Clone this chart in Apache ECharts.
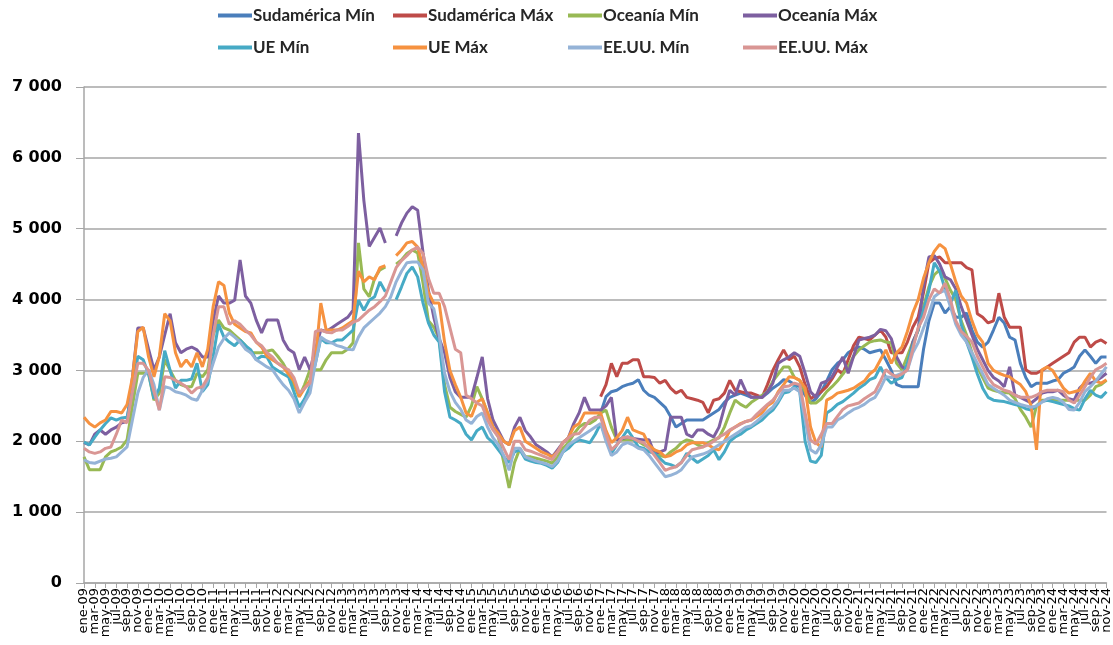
<!DOCTYPE html>
<html>
<head>
<meta charset="utf-8">
<script src="https://cdn.jsdelivr.net/npm/echarts@6/dist/echarts.min.js"></script>
<style>
html,body{margin:0;padding:0;background:#fff;}
#chart{width:1113px;height:645px;}
</style>
</head>
<body>
<div id="chart"></div>
<script>
// ---- tick labels ----
const MONTHS = ['ene','feb','mar','abr','may','jun','jul','ago','sep','oct','nov','dic'];
const YEARS = ['09','10','11','12','13','14','15','16','17','18','19','20','21','22','23','24'];
const LAST_LABEL = 'nov-24';

// ---- series names ----
const NAMES = ['Sudamérica Mín','Sudamérica Máx','Oceanía Mín','Oceanía Máx','UE Mín','UE Máx','EE.UU. Mín','EE.UU. Máx'];

// ---- series values (monthly, ene-09 .. nov-24) ----
const sudMin = [
null,null,null,null,null,null,null,null,null,null,null,null,
null,null,null,null,null,null,null,null,null,null,null,null,
null,null,null,null,null,null,null,null,null,null,null,null,
null,null,null,null,null,null,null,null,null,null,null,null,
null,null,null,null,null,null,null,null,null,null,null,null,
null,null,null,null,null,null,null,null,null,null,null,null,
null,null,null,null,null,null,null,null,null,null,null,null,
null,null,null,null,null,null,null,null,null,null,null,null,
2400,2630,2700,2720,2770,2800,2820,2870,2720,2650,2620,2550,
2480,2350,2200,2250,2300,2300,2300,2300,2350,2400,2450,2550,
2620,2650,2680,2650,2620,2620,2620,2680,2750,2800,2870,2850,
2800,2770,2650,2540,2600,2700,2850,3010,3100,3150,3250,3300,
3330,3300,3250,3270,3290,3150,3000,2800,2770,2770,2770,2770,
3300,3700,3950,3950,3810,3900,3750,3750,3810,3570,3400,3330,
3400,3570,3750,3670,3470,3430,3100,2900,2770,2820,2820,2820,
2850,2870,2960,3000,3050,3200,3290,3200,3100,3190,3190];

const sudMax = [
null,null,null,null,null,null,null,null,null,null,null,null,
null,null,null,null,null,null,null,null,null,null,null,null,
null,null,null,null,null,null,null,null,null,null,null,null,
null,null,null,null,null,null,null,null,null,null,null,null,
null,null,null,null,null,null,null,null,null,null,null,null,
null,null,null,null,null,null,null,null,null,null,null,null,
null,null,null,null,null,null,null,null,null,null,null,null,
null,null,null,null,null,null,null,null,null,null,null,null,
2630,2800,3100,2910,3100,3100,3150,3150,2910,2910,2900,2820,
2860,2750,2680,2720,2620,2600,2580,2550,2400,2580,2600,2680,
2860,2720,2700,2680,2680,2650,2620,2800,3000,3150,3290,3150,
3200,3050,2800,2600,2650,2700,2770,2880,3010,2950,3150,3350,
3470,3450,3430,3500,3570,3470,3250,3250,3250,3400,3610,3750,
4100,4520,4580,4600,4520,4520,4520,4520,4450,4420,3800,3750,
3670,3700,4090,3750,3610,3610,3610,3010,2960,2960,3000,3050,
3100,3150,3200,3250,3400,3470,3470,3330,3400,3430,3380];

const ocMin = [
1780,1600,1600,1600,1780,1850,1880,1920,2020,2500,2960,2960,
2960,2580,2680,3150,3000,2860,2800,2770,2770,2960,2910,3010,
3500,3710,3600,3570,3500,3430,3350,3250,3250,3250,3270,3290,
3200,3100,2960,2800,2630,2800,3010,3010,3010,3150,3250,3250,
3250,3300,3390,4800,4150,4040,4300,4420,4460,null,4500,4560,
4650,4700,4660,4230,3700,3610,3450,2800,2480,2420,2380,2340,
2500,2770,2600,2400,2200,2060,1700,1340,1700,1900,1780,1780,
1760,1740,1720,1690,1780,1900,1980,2100,2200,2250,2250,2300,
2400,2440,2200,2020,2020,2020,2020,2000,1950,1920,1880,1800,
1780,1850,1900,1980,2020,2000,1950,1920,1980,2020,2050,2200,
2400,2580,2520,2480,2550,2600,2650,2700,2850,2950,3050,3050,
2900,2860,2700,2540,2540,2600,2700,2770,2850,2950,3050,3200,
3290,3350,3400,3420,3430,3400,3390,3100,3010,3200,3400,3570,
3900,4180,4350,4420,4300,4130,4000,3700,3500,3250,3050,2900,
2750,2720,2700,2690,2680,2600,2450,2340,2200,2500,2580,2580,
2580,2580,2580,2580,2580,2580,2580,2650,2770,2800,2860];

const ocMax = [
1980,1950,2100,2160,2100,2160,2200,2260,2280,2900,3600,3600,
3300,3010,3190,3500,3800,3390,3250,3300,3330,3290,3190,3190,
3700,4050,3950,3950,3990,4560,4050,3950,3710,3530,3710,3710,
3710,3430,3300,3250,3010,3190,3010,3300,3570,3550,3600,3650,
3700,3750,3850,6350,5400,4750,4880,5010,4800,null,4900,5080,
5220,5310,5260,4660,4130,3750,3450,3250,2900,2700,2620,2620,
2620,2900,3190,2600,2300,2150,2000,1950,2200,2340,2150,2060,
1950,1900,1850,1780,1880,1980,2050,2250,2400,2620,2440,2440,
2440,2500,2620,2020,2040,2060,2040,2030,2020,2020,1830,1850,
1880,2340,2340,2340,2100,2060,2160,2160,2100,2060,2200,2480,
2720,2650,2870,2700,2620,2620,2620,2700,2820,3100,3150,3190,
3250,3200,2960,2700,2620,2820,2850,2910,3050,3190,2960,3200,
3430,3450,3470,3500,3580,3560,3450,3190,3050,3010,3400,3570,
4200,4600,4620,4500,4320,4280,4150,3900,3700,3500,3300,3150,
3000,2900,2850,2770,3050,2650,2620,2580,2540,2600,2680,2700,
2700,2720,2650,2600,2580,2750,2820,2820,2850,2900,2960];

const ueMin = [
1990,1950,2060,2160,2250,2330,2300,2330,2340,2700,3200,3150,
2950,2600,2750,3280,3000,2750,2860,2860,2880,3100,2700,2800,
3200,3650,3470,3400,3350,3430,3350,3290,3150,3200,3190,3050,
3000,2950,2910,2700,2480,2600,2770,3100,3450,3390,3390,3430,
3430,3500,3570,3990,3850,3990,4040,4250,4110,null,4000,4180,
4370,4460,4320,3950,3670,3500,3400,2700,2340,2300,2250,2100,
2020,2150,2200,2050,1980,1880,1780,1700,1850,1880,1750,1720,
1700,1690,1660,1620,1700,1850,1900,1980,2020,2000,1980,2100,
2250,2050,1830,1950,2050,2160,2050,1920,1900,1850,1830,1760,
1690,1670,1640,1700,1830,1760,1700,1750,1800,1880,1740,1850,
2000,2060,2100,2160,2200,2250,2300,2380,2440,2550,2680,2700,
2770,2700,2000,1720,1700,1800,2400,2450,2520,2560,2620,2680,
2750,2800,2870,2900,3050,2900,2820,2870,2900,3100,3350,3570,
3850,4130,4520,4400,4150,3950,4130,3650,3400,3190,2950,2750,
2620,2580,2570,2560,2540,2520,2500,2460,2440,2500,2560,2580,
2560,2540,2520,2500,2460,2440,2600,2720,2650,2620,2700];

const ueMax = [
2340,2250,2200,2260,2300,2420,2420,2400,2520,2900,3550,3610,
3190,2910,3200,3800,3700,3250,3050,3150,3050,3250,3050,3300,
3900,4250,4200,3810,3650,3600,3550,3530,3400,3330,3200,3150,
3100,3050,2950,2850,2630,2750,2860,3150,3950,3570,3570,3570,
3600,3650,3700,4400,4250,4320,4280,4450,4480,null,4620,4700,
4800,4820,4740,4460,4100,3950,3950,3400,3000,2800,2620,2400,
2350,2550,2600,2400,2200,2110,2000,1950,2150,2200,2000,1950,
1900,1850,1820,1780,1850,1980,2050,2200,2250,2400,2400,2400,
2400,2150,1980,2050,2150,2340,2160,2130,2100,1950,1880,1850,
1780,1800,1850,1880,1950,1980,1980,1980,1950,1900,1880,2000,
2150,2200,2250,2280,2300,2350,2400,2500,2550,2700,2800,2910,
2900,2860,2750,2200,1980,1920,2580,2620,2680,2700,2720,2750,
2800,2850,2950,3010,3150,3290,3100,3250,3330,3550,3810,4000,
4300,4520,4680,4780,4720,4500,4250,4050,3950,3700,3500,3400,
3100,3000,2960,2930,2910,2850,2800,2700,2500,1880,3010,3050,
3000,2870,2750,2680,2700,2720,2850,2960,2850,2820,2870];

const usMin = [
1740,1700,1690,1720,1750,1760,1780,1850,1920,2300,2680,2900,
3010,2800,2440,2770,2750,2700,2680,2650,2600,2580,2720,2860,
3100,3330,3450,3530,3470,3400,3300,3250,3150,3100,3050,3010,
2900,2800,2720,2600,2400,2550,2680,3100,3470,3420,3390,3350,
3330,3300,3290,3470,3600,3670,3740,3810,3900,4040,4250,4400,
4520,4530,4530,4420,3950,3870,3500,2960,2700,2550,2450,2300,
2250,2350,2400,2200,2050,1950,1800,1590,1900,1900,1780,1750,
1720,1700,1680,1640,1720,1850,1950,2000,2050,2100,2150,2200,
2250,2000,1800,1850,1950,1980,1950,1900,1880,1800,1700,1600,
1500,1520,1550,1600,1700,1780,1800,1820,1850,1900,1950,2000,
2050,2100,2150,2200,2220,2280,2350,2420,2480,2580,2720,2720,
2750,2700,2300,1880,1830,1950,2200,2200,2300,2340,2400,2450,
2480,2520,2580,2620,2750,2910,2900,2930,2960,3000,3250,3390,
3600,3800,4040,4100,4130,3900,3650,3500,3400,3250,3100,2950,
2800,2750,2700,2650,2580,2550,2520,2500,2480,2500,2550,2600,
2620,2600,2550,2450,2440,2550,2700,2770,2850,2950,3050];

const usMax = [
1900,1850,1830,1850,1900,1920,2100,2300,2260,2700,3100,3100,
3000,2700,2440,2910,2900,2860,2820,2770,2680,2750,2770,2900,
3500,3900,3900,3650,3700,3650,3570,3500,3400,3350,3250,3190,
3100,3050,3010,2900,2680,2750,2820,3550,3570,3540,3530,3570,
3570,3620,3680,3710,3780,3850,3900,3970,4050,4250,4450,4550,
4620,4700,4740,4650,4300,4090,4090,3900,3600,3300,3250,2650,
2600,2540,2500,2300,2160,2060,1900,1740,2000,2000,1880,1860,
1830,1800,1770,1740,1850,1980,2050,2100,2110,2200,2300,2340,
2340,2100,1880,1950,2050,2060,2040,2000,1980,1900,1800,1700,
1590,1620,1640,1700,1800,1880,1900,1920,1950,2000,2060,2100,
2160,2200,2240,2280,2300,2380,2450,2520,2580,2680,2770,2780,
2820,2800,2400,2020,1960,2100,2250,2250,2350,2450,2500,2520,
2540,2600,2650,2700,2850,3010,2950,2910,2950,3010,3300,3600,
3750,4000,4150,4090,4230,4000,3700,3550,3480,3400,3200,3050,
2900,2800,2760,2720,2700,2650,2620,2620,2620,2650,2700,2720,
2720,2720,2700,2580,2540,2650,2770,2900,3010,3050,3100];

// ---- build categories ----
const cats = [];
outer: for (const y of YEARS) {
  for (const m of MONTHS) {
    const lab = m + '-' + y;
    cats.push(lab);
    if (lab === LAST_LABEL) break outer;
  }
}

const COLORS = ['#4A7EBB','#BE4B48','#98B954','#7D5FA0','#46AAC5','#F69240','#95B3D7','#D99694'];
const VALUES = [sudMin, sudMax, ocMin, ocMax, ueMin, ueMax, usMin, usMax];

const legendCols = [218, 393, 568, 743];
const legendRows = [7, 39];
const legends = NAMES.map((n, i) => ({
  data: [n],
  left: legendCols[i % 4],
  top: legendRows[Math.floor(i / 4)],
  padding: 0,
  icon: 'rect',
  itemWidth: 34,
  itemHeight: 4,
  itemGap: 0,
  textStyle: {fontFamily: 'Lato', fontWeight: 'bold', fontSize: 17, color: '#262626', padding: [0,0,0,-4]}
}));

const chart = echarts.init(document.getElementById('chart'), null, {renderer: 'canvas'});
chart.setOption({
  animation: false,
  backgroundColor: '#ffffff',
  color: COLORS,
  legend: legends,
  grid: {left: 84, right: 3, top: 87, bottom: 62, containLabel: false},
  xAxis: {
    type: 'category',
    data: cats,
    boundaryGap: false,
    axisLine: {lineStyle: {color: '#a6a6a6', width: 1.5}},
    axisTick: {show: true, interval: 1, length: 5, lineStyle: {color: '#a6a6a6'}},
    axisLabel: {interval: 0, rotate: 90, margin: 5, hideOverlap: false,
      formatter: (v, idx) => (idx % 2 === 0 ? v : ''),
      fontFamily: 'DejaVu Sans', fontSize: 13, color: '#000'},
    splitLine: {show: false}
  },
  yAxis: {
    type: 'value',
    min: 0, max: 7000, interval: 1000,
    axisLine: {show: true, lineStyle: {color: '#a6a6a6', width: 1.5}},
    axisTick: {show: true, length: 8, lineStyle: {color: '#a6a6a6'}},
    axisLabel: {
      margin: 22, fontFamily: 'DejaVu Sans', fontWeight: 'bold', fontSize: 16, color: '#000',
      formatter: v => v === 0 ? '0' : (Math.floor(v / 1000) + ' ' + String(v % 1000).padStart(3, '0'))
    },
    splitLine: {lineStyle: {color: '#a6a6a6', width: 1.5}}
  },
  series: NAMES.map((n, i) => ({
    name: n,
    type: 'line',
    data: VALUES[i],
    symbol: 'none',
    connectNulls: false,
    lineStyle: {width: 3, color: COLORS[i]},
    itemStyle: {color: COLORS[i]}
  }))
});
</script>
</body>
</html>
